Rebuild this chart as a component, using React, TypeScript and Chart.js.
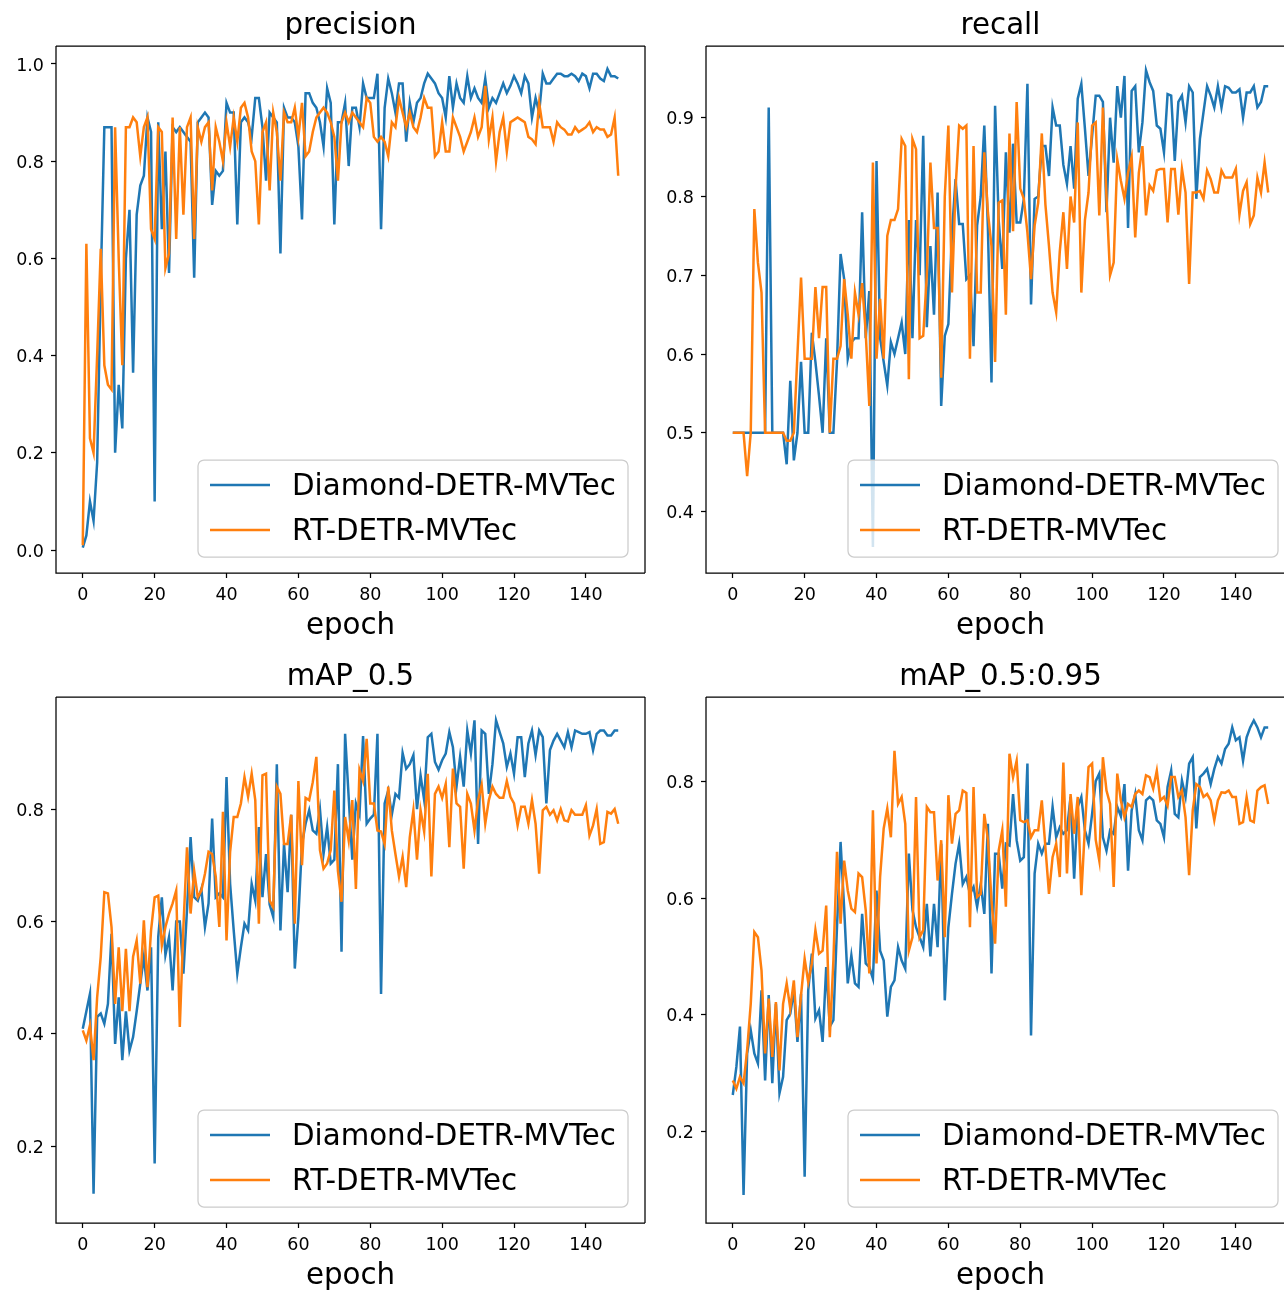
import React, { useEffect, useRef } from "react";
import { Chart, registerables } from "chart.js";

Chart.register(...registerables);

const epochs: number[] = Array.from({ length: 150 }, (_, i) => i);
const xTicks = [0, 20, 40, 60, 80, 100, 120, 140];
const seriesNames = ["Diamond-DETR-MVTec", "RT-DETR-MVTec"];
const seriesColors = ["#1f77b4", "#ff7f0e"];

const precisionDiamond = [
  0.005, 0.03, 0.10, 0.06, 0.18, 0.55, 0.87, 0.87, 0.87, 0.20,
  0.34, 0.25, 0.60, 0.70, 0.365, 0.69, 0.75, 0.77, 0.89, 0.86,
  0.10, 0.88, 0.66, 0.82, 0.57, 0.87, 0.86, 0.87, 0.86, 0.85,
  0.84, 0.56, 0.88, 0.89, 0.90, 0.89, 0.71, 0.78, 0.77, 0.78,
  0.92, 0.90, 0.90, 0.67, 0.88, 0.89, 0.88, 0.85, 0.93, 0.93,
  0.87, 0.76, 0.90, 0.89, 0.88, 0.61, 0.91, 0.89, 0.89, 0.88,
  0.83, 0.68, 0.94, 0.94, 0.92, 0.91, 0.88, 0.83, 0.95, 0.92,
  0.67, 0.88, 0.88, 0.92, 0.79, 0.91, 0.91, 0.87, 0.96, 0.93,
  0.93, 0.93, 0.98, 0.66, 0.91, 0.97, 0.94, 0.90, 0.96, 0.96,
  0.84, 0.92, 0.88, 0.92, 0.93, 0.96, 0.98, 0.97, 0.96, 0.94,
  0.93, 0.89, 0.975, 0.91, 0.96, 0.93, 0.92, 0.975, 0.93, 0.95,
  0.93, 0.92, 0.97, 0.91, 0.93, 0.92, 0.94, 0.96, 0.94, 0.955,
  0.975, 0.96, 0.94, 0.975, 0.96, 0.89, 0.93, 0.90, 0.98, 0.96,
  0.96, 0.97, 0.98, 0.98, 0.975, 0.975, 0.98, 0.975, 0.965, 0.98,
  0.975, 0.95, 0.98, 0.98, 0.97, 0.965, 0.99, 0.975, 0.975, 0.97,
];

const precisionRT = [
  0.01, 0.63, 0.23, 0.20, 0.40, 0.62, 0.38, 0.34, 0.33, 0.87,
  0.60, 0.38, 0.87, 0.87, 0.89, 0.88, 0.81, 0.87, 0.89, 0.66,
  0.64, 0.87, 0.86, 0.58, 0.61, 0.89, 0.64, 0.87, 0.69, 0.87,
  0.89, 0.64, 0.87, 0.84, 0.87, 0.88, 0.74, 0.87, 0.84, 0.80,
  0.88, 0.83, 0.89, 0.84, 0.91, 0.92, 0.89, 0.82, 0.80, 0.67,
  0.86, 0.88, 0.74, 0.90, 0.86, 0.76, 0.90, 0.88, 0.88, 0.91,
  0.85, 0.92, 0.81, 0.82, 0.86, 0.89, 0.90, 0.91, 0.90, 0.88,
  0.85, 0.76, 0.88, 0.90, 0.88, 0.90, 0.89, 0.88, 0.87, 0.93,
  0.92, 0.85, 0.84, 0.85, 0.84, 0.81, 0.88, 0.87, 0.93, 0.90,
  0.87, 0.90, 0.87, 0.86, 0.89, 0.93, 0.91, 0.91, 0.81, 0.82,
  0.88, 0.82, 0.82, 0.89, 0.87, 0.85, 0.82, 0.84, 0.86, 0.89,
  0.85, 0.87, 0.955, 0.845, 0.89, 0.80, 0.86, 0.89, 0.82, 0.88,
  0.885, 0.89, 0.885, 0.88, 0.85, 0.845, 0.835, 0.92, 0.87, 0.87,
  0.87, 0.84, 0.88, 0.87, 0.865, 0.855, 0.855, 0.87, 0.86, 0.865,
  0.87, 0.88, 0.86, 0.87, 0.865, 0.865, 0.85, 0.855, 0.89, 0.77,
];

const recallDiamond = [
  0.5, 0.5, 0.5, 0.5, 0.5, 0.5, 0.5, 0.5, 0.5, 0.5,
  0.913, 0.5, 0.5, 0.5, 0.5, 0.46, 0.566, 0.465, 0.5, 0.59,
  0.5, 0.5, 0.627, 0.59, 0.547, 0.5, 0.62, 0.5, 0.5, 0.59,
  0.727, 0.695, 0.594, 0.615, 0.62, 0.62, 0.78, 0.62, 0.68, 0.355,
  0.845, 0.62, 0.59, 0.56, 0.615, 0.60, 0.62, 0.64, 0.60, 0.77,
  0.62, 0.77, 0.70, 0.877, 0.634, 0.737, 0.65, 0.805, 0.534, 0.623,
  0.638, 0.754, 0.822, 0.765, 0.765, 0.695, 0.70, 0.61, 0.763, 0.80,
  0.89, 0.76, 0.564, 0.915, 0.77, 0.708, 0.856, 0.754, 0.867, 0.767,
  0.767, 0.797, 0.943, 0.663, 0.797, 0.80, 0.864, 0.864, 0.826, 0.913,
  0.89, 0.89, 0.84, 0.816, 0.864, 0.81, 0.924, 0.943, 0.886, 0.826,
  0.877, 0.928, 0.928, 0.92, 0.78, 0.90, 0.843, 0.94, 0.90, 0.953,
  0.76, 0.934, 0.94, 0.856, 0.894, 0.96, 0.945, 0.934, 0.89, 0.886,
  0.856, 0.93, 0.928, 0.845, 0.92, 0.928, 0.894, 0.94, 0.932, 0.797,
  0.873, 0.907, 0.94, 0.928, 0.913, 0.94, 0.913, 0.94, 0.938, 0.932,
  0.932, 0.936, 0.90, 0.932, 0.932, 0.94, 0.913, 0.92, 0.94, 0.94,
];

const recallRT = [
  0.5, 0.5, 0.5, 0.5, 0.445, 0.5, 0.784, 0.716, 0.678, 0.5,
  0.5, 0.5, 0.5, 0.5, 0.5, 0.49, 0.49, 0.5, 0.60, 0.697,
  0.594, 0.594, 0.594, 0.685, 0.62, 0.685, 0.685, 0.5, 0.594, 0.594,
  0.61, 0.695, 0.65, 0.594, 0.678, 0.65, 0.69, 0.627, 0.534, 0.843,
  0.594, 0.67, 0.594, 0.75, 0.77, 0.77, 0.784, 0.873, 0.864, 0.568,
  0.873, 0.86, 0.62, 0.623, 0.70, 0.843, 0.76, 0.76, 0.57, 0.80,
  0.89, 0.678, 0.81, 0.89, 0.886, 0.89, 0.594, 0.864, 0.678, 0.678,
  0.856, 0.78, 0.737, 0.59, 0.792, 0.795, 0.65, 0.88, 0.756, 0.92,
  0.81, 0.797, 0.754, 0.695, 0.763, 0.792, 0.88, 0.79, 0.737, 0.678,
  0.653, 0.73, 0.78, 0.708, 0.80, 0.767, 0.894, 0.678, 0.77, 0.805,
  0.89, 0.894, 0.776, 0.913, 0.80, 0.70, 0.716, 0.847, 0.82, 0.797,
  0.83, 0.85, 0.748, 0.83, 0.864, 0.776, 0.814, 0.807, 0.833, 0.835,
  0.835, 0.767, 0.835, 0.835, 0.777, 0.835, 0.805, 0.689, 0.805, 0.805,
  0.807, 0.797, 0.833, 0.822, 0.805, 0.805, 0.833, 0.824, 0.824, 0.824,
  0.835, 0.777, 0.807, 0.818, 0.765, 0.776, 0.824, 0.805, 0.843, 0.805,
];

const map50Diamond = [
  0.409, 0.44, 0.471, 0.115, 0.43, 0.436, 0.418, 0.453, 0.578, 0.382,
  0.465, 0.353, 0.44, 0.37, 0.394, 0.44, 0.489, 0.537, 0.477, 0.554,
  0.169, 0.572, 0.643, 0.54, 0.572, 0.477, 0.60, 0.60, 0.507, 0.62,
  0.75, 0.643, 0.637, 0.658, 0.59, 0.632, 0.783, 0.643, 0.65, 0.643,
  0.857, 0.667, 0.584, 0.507, 0.554, 0.596, 0.584, 0.667, 0.637, 0.768,
  0.643, 0.72, 0.63, 0.608, 0.88, 0.584, 0.738, 0.652, 0.79, 0.516,
  0.608, 0.738, 0.774, 0.798, 0.762, 0.756, 0.80, 0.72, 0.768, 0.703,
  0.71, 0.88, 0.546, 0.934, 0.82, 0.71, 0.81, 0.79, 0.93, 0.774,
  0.783, 0.79, 0.934, 0.471, 0.81, 0.833, 0.79, 0.827, 0.82, 0.90,
  0.872, 0.88, 0.896, 0.80, 0.86, 0.816, 0.928, 0.934, 0.884, 0.87,
  0.887, 0.899, 0.937, 0.91, 0.84, 0.893, 0.84, 0.94, 0.899, 0.958,
  0.738, 0.94, 0.934, 0.827, 0.88, 0.958, 0.937, 0.917, 0.875, 0.899,
  0.863, 0.928, 0.928, 0.857, 0.917, 0.94, 0.896, 0.94, 0.928, 0.81,
  0.905, 0.922, 0.934, 0.922, 0.91, 0.937, 0.91, 0.94, 0.937, 0.934,
  0.934, 0.937, 0.905, 0.934, 0.94, 0.94, 0.931, 0.931, 0.94, 0.94,
];

const map50RT = [
  0.406, 0.388, 0.415, 0.353, 0.465, 0.537, 0.652, 0.65, 0.59, 0.453,
  0.554, 0.44, 0.551, 0.44, 0.537, 0.566, 0.489, 0.602, 0.483, 0.584,
  0.643, 0.646, 0.557, 0.59, 0.614, 0.632, 0.655, 0.412, 0.59, 0.732,
  0.614, 0.69, 0.643, 0.655, 0.685, 0.724, 0.72, 0.68, 0.59, 0.795,
  0.566, 0.724, 0.786, 0.786, 0.81, 0.857, 0.822, 0.863, 0.816, 0.596,
  0.86, 0.863, 0.637, 0.625, 0.84, 0.827, 0.738, 0.738, 0.79, 0.596,
  0.85, 0.70, 0.82, 0.816, 0.848, 0.893, 0.727, 0.694, 0.703, 0.727,
  0.833, 0.69, 0.635, 0.786, 0.744, 0.816, 0.658, 0.87, 0.85, 0.925,
  0.81, 0.81, 0.762, 0.76, 0.738, 0.84, 0.762, 0.72, 0.68, 0.715,
  0.661, 0.75, 0.798, 0.71, 0.798, 0.76, 0.863, 0.68, 0.827, 0.84,
  0.82, 0.845, 0.732, 0.872, 0.81, 0.804, 0.694, 0.827, 0.81, 0.762,
  0.816, 0.843, 0.774, 0.816, 0.84, 0.827, 0.82, 0.82, 0.85, 0.822,
  0.81, 0.771, 0.804, 0.804, 0.774, 0.816, 0.774, 0.685, 0.798, 0.804,
  0.79, 0.798, 0.78, 0.80, 0.78, 0.778, 0.798, 0.79, 0.79, 0.79,
  0.807, 0.753, 0.771, 0.80, 0.738, 0.741, 0.795, 0.792, 0.80, 0.774,
];

const map5095Diamond = [
  0.263, 0.311, 0.38, 0.092, 0.334, 0.374, 0.334, 0.317, 0.442, 0.288,
  0.434, 0.283, 0.419, 0.266, 0.294, 0.391, 0.402, 0.442, 0.354, 0.436,
  0.123, 0.442, 0.505, 0.394, 0.408, 0.354, 0.482, 0.38, 0.391, 0.55,
  0.696, 0.582, 0.454, 0.502, 0.454, 0.448, 0.573, 0.488, 0.482, 0.462,
  0.613, 0.51, 0.493, 0.397, 0.448, 0.459, 0.516, 0.493, 0.479, 0.676,
  0.58, 0.55, 0.533, 0.516, 0.59, 0.50, 0.59, 0.516, 0.693, 0.425,
  0.55, 0.607, 0.659, 0.693, 0.624, 0.636, 0.607, 0.619, 0.585, 0.624,
  0.573, 0.727, 0.471, 0.676, 0.676, 0.616, 0.693, 0.69, 0.778, 0.699,
  0.664, 0.67, 0.83, 0.365, 0.642, 0.693, 0.676, 0.693, 0.693, 0.756,
  0.704, 0.721, 0.71, 0.716, 0.773, 0.633, 0.756, 0.773, 0.716, 0.693,
  0.744, 0.80, 0.813, 0.704, 0.681, 0.716, 0.71, 0.756, 0.74, 0.795,
  0.647, 0.75, 0.778, 0.716, 0.699, 0.767, 0.773, 0.767, 0.733, 0.727,
  0.704, 0.79, 0.818, 0.744, 0.738, 0.801, 0.773, 0.83, 0.841, 0.719,
  0.807, 0.813, 0.821, 0.795, 0.821, 0.841, 0.83, 0.855, 0.864, 0.892,
  0.87, 0.875, 0.835, 0.875, 0.892, 0.904, 0.892, 0.875, 0.892, 0.892,
];

const map5095RT = [
  0.288, 0.274, 0.294, 0.283, 0.34, 0.419, 0.542, 0.533, 0.476, 0.334,
  0.428, 0.328, 0.422, 0.305, 0.419, 0.454, 0.411, 0.459, 0.362, 0.434,
  0.496, 0.456, 0.488, 0.545, 0.505, 0.51, 0.587, 0.362, 0.493, 0.679,
  0.556, 0.664, 0.613, 0.582, 0.576, 0.642, 0.636, 0.579, 0.471, 0.75,
  0.488, 0.636, 0.719, 0.753, 0.704, 0.852, 0.761, 0.773, 0.727, 0.51,
  0.533, 0.773, 0.533, 0.545, 0.756, 0.747, 0.747, 0.63, 0.699, 0.533,
  0.776, 0.693, 0.744, 0.75, 0.784, 0.78, 0.55, 0.79, 0.602, 0.607,
  0.744, 0.70, 0.596, 0.522, 0.681, 0.716, 0.585, 0.847, 0.807, 0.835,
  0.733, 0.73, 0.733, 0.704, 0.716, 0.716, 0.767, 0.687, 0.607, 0.67,
  0.693, 0.636, 0.832, 0.642, 0.778, 0.71, 0.773, 0.605, 0.721, 0.824,
  0.83, 0.70, 0.664, 0.841, 0.784, 0.761, 0.619, 0.813, 0.767, 0.738,
  0.761, 0.756, 0.778, 0.784, 0.778, 0.81, 0.807, 0.787, 0.818, 0.767,
  0.773, 0.758, 0.807, 0.807, 0.773, 0.784, 0.738, 0.639, 0.75, 0.795,
  0.79, 0.773, 0.778, 0.767, 0.733, 0.767, 0.781, 0.78, 0.784, 0.773,
  0.773, 0.727, 0.73, 0.773, 0.733, 0.73, 0.784, 0.79, 0.793, 0.761,
];

const precisionTicks = [0.0, 0.2, 0.4, 0.6, 0.8, 1.0];
const recallTicks = [0.4, 0.5, 0.6, 0.7, 0.8, 0.9];
const map50Ticks = [0.2, 0.4, 0.6, 0.8];
const map5095Ticks = [0.2, 0.4, 0.6, 0.8];

const FONT = '"DejaVu Sans", "Liberation Sans", sans-serif';
const BIG = 29.3;
const AXES_W = 589;

type PanelSpec = {
  title: string;
  left: number;
  top: number;
  width: number;
  height: number;
  padRight: number;
  xMax: number;
  xAxisHeight: number;
  yMin: number;
  yMax: number;
  yTicks: number[];
  diamond: number[];
  rt: number[];
  rightBorder: boolean;
};

const panels: PanelSpec[] = [
  {
    title: "precision", left: 0, top: 0, width: 650, height: 645, padRight: 5,
    xMax: 156.45, xAxisHeight: 72, yMin: -0.0473, yMax: 1.037,
    yTicks: precisionTicks, diamond: precisionDiamond, rt: precisionRT, rightBorder: true,
  },
  {
    title: "recall", left: 650, top: 0, width: 634, height: 645, padRight: 0,
    xMax: 153.4, xAxisHeight: 72, yMin: 0.322, yMax: 0.991,
    yTicks: recallTicks, diamond: recallDiamond, rt: recallRT, rightBorder: false,
  },
  {
    title: "mAP_0.5", left: 0, top: 651, width: 650, height: 639, padRight: 5,
    xMax: 156.45, xAxisHeight: 67, yMin: 0.063, yMax: 0.9996,
    yTicks: map50Ticks, diamond: map50Diamond, rt: map50RT, rightBorder: true,
  },
  {
    title: "mAP_0.5:0.95", left: 650, top: 651, width: 634, height: 639, padRight: 0,
    xMax: 153.4, xAxisHeight: 67, yMin: 0.044, yMax: 0.944,
    yTicks: map5095Ticks, diamond: map5095Diamond, rt: map5095RT, rightBorder: false,
  },
];

const decorPlugin = {
  id: "decor",
  afterDatasetsDraw(chart: any, _args: any, opts: any) {
    const { ctx, chartArea: a } = chart;
    ctx.save();
    ctx.strokeStyle = "#000";
    ctx.lineWidth = 1.25;
    ctx.beginPath();
    ctx.moveTo(a.left, a.top);
    ctx.lineTo(a.left, a.bottom);
    ctx.lineTo(a.right, a.bottom);
    ctx.moveTo(a.left, a.top);
    ctx.lineTo(a.right, a.top);
    if (opts.rightBorder) {
      ctx.moveTo(a.right, a.top);
      ctx.lineTo(a.right, a.bottom);
    }
    ctx.stroke();

    const lx = a.left + 142;
    const ly = a.bottom - 113;
    const lw = 430;
    const lh = 97;
    ctx.beginPath();
    ctx.roundRect(lx, ly, lw, lh, 6);
    ctx.fillStyle = "rgba(255,255,255,0.8)";
    ctx.fill();
    ctx.strokeStyle = "#cccccc";
    ctx.lineWidth = 1.25;
    ctx.stroke();
    ctx.font = `${BIG}px ${FONT}`;
    ctx.textAlign = "left";
    ctx.textBaseline = "middle";
    seriesNames.forEach((name, i) => {
      const y = ly + 25 + i * 45;
      ctx.strokeStyle = seriesColors[i];
      ctx.lineWidth = 2.5;
      ctx.beginPath();
      ctx.moveTo(lx + 12, y);
      ctx.lineTo(lx + 72, y);
      ctx.stroke();
      ctx.fillStyle = "#000";
      ctx.fillText(name, lx + 94, y + 2);
    });

    const cx = a.left + AXES_W / 2;
    ctx.fillStyle = "#000";
    ctx.textAlign = "center";
    ctx.textBaseline = "alphabetic";
    ctx.font = `${BIG}px ${FONT}`;
    ctx.fillText(opts.title, cx, a.top - 12);
    ctx.fillText("epoch", cx, a.bottom + 61);
    ctx.restore();
  },
};

function Panel({ spec }: { spec: PanelSpec }) {
  const ref = useRef<HTMLCanvasElement>(null);
  useEffect(() => {
    const canvas = ref.current;
    if (!canvas) return;
    const chart = new Chart(canvas, {
      type: "line",
      data: {
        datasets: [
          {
            label: seriesNames[0],
            data: epochs.map((e, i) => ({ x: e, y: spec.diamond[i] })),
            borderColor: seriesColors[0],
            borderWidth: 2.5,
            pointRadius: 0,
            tension: 0,
            fill: false,
            order: 1,
          },
          {
            label: seriesNames[1],
            data: epochs.map((e, i) => ({ x: e, y: spec.rt[i] })),
            borderColor: seriesColors[1],
            borderWidth: 2.5,
            pointRadius: 0,
            tension: 0,
            fill: false,
            order: 0,
          },
        ],
      },
      options: {
        animation: false,
        responsive: false,
        devicePixelRatio: 1,
        layout: { padding: { top: 46, right: spec.padRight, bottom: 0, left: 0 } },
        plugins: {
          legend: { display: false },
          tooltip: { enabled: false },
          decor: { title: spec.title, rightBorder: spec.rightBorder },
        } as any,
        scales: {
          x: {
            type: "linear",
            min: -7.45,
            max: spec.xMax,
            afterBuildTicks: (s: any) => {
              s.ticks = xTicks.map((v) => ({ value: v }));
            },
            afterFit: (s: any) => {
              s.height = spec.xAxisHeight;
            },
            ticks: {
              autoSkip: false,
              maxRotation: 0,
              minRotation: 0,
              padding: 7,
              color: "#000",
              font: { family: FONT, size: 17.5 },
              callback: (v: any) => String(v),
            },
            grid: {
              drawOnChartArea: false,
              drawTicks: true,
              tickLength: 5,
              tickColor: "#000",
              tickWidth: 1.25,
            },
            border: { display: false },
          },
          y: {
            type: "linear",
            min: spec.yMin,
            max: spec.yMax,
            afterBuildTicks: (s: any) => {
              s.ticks = spec.yTicks.map((v) => ({ value: v }));
            },
            afterFit: (s: any) => {
              s.width = 56;
            },
            ticks: {
              autoSkip: false,
              padding: 7,
              labelOffset: 2,
              color: "#000",
              font: { family: FONT, size: 17.5 },
              callback: (v: any) => Number(v).toFixed(1),
            },
            grid: {
              drawOnChartArea: false,
              drawTicks: true,
              tickLength: 5,
              tickColor: "#000",
              tickWidth: 1.25,
            },
            border: { display: false },
          },
        },
      } as any,
      plugins: [decorPlugin],
    });
    return () => chart.destroy();
  }, [spec]);
  return (
    <canvas
      ref={ref}
      width={spec.width}
      height={spec.height}
      style={{
        position: "absolute",
        left: spec.left,
        top: spec.top,
        width: spec.width,
        height: spec.height,
        display: "block",
      }}
    />
  );
}

export default function App() {
  return (
    <div
      style={{
        position: "absolute",
        left: 0,
        top: 0,
        width: 1284,
        height: 1290,
        overflow: "hidden",
        background: "#fff",
      }}
    >
      {panels.map((p) => (
        <Panel key={p.title} spec={p} />
      ))}
    </div>
  );
}
